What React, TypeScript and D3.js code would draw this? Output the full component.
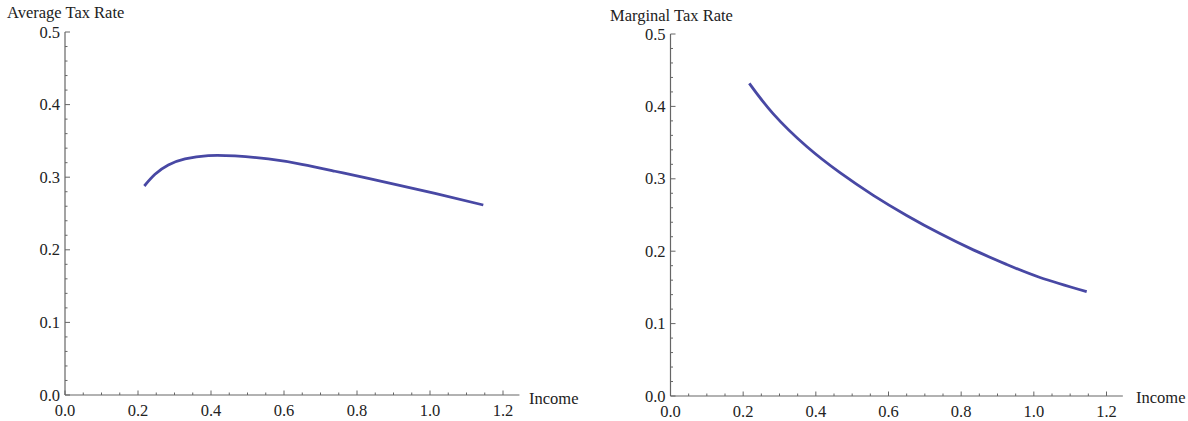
import { useEffect } from "react"
import * as d3 from "d3"

// values
const avgIncome = [0.2173, 0.2466, 0.283, 0.3288, 0.3926, 0.4658, 0.557, 0.6485, 0.7397, 0.831, 0.9225, 1.0137, 1.146]
const avgRate = [0.2879, 0.304, 0.3168, 0.3251, 0.3298, 0.3293, 0.3251, 0.3178, 0.3082, 0.2983, 0.2882, 0.2776, 0.2617]

const margIncome = [0.2169, 0.2829, 0.3749, 0.4665, 0.5582, 0.6501, 0.7417, 0.8334, 0.9253, 1.017, 1.1455]
const margRate = [0.4319, 0.3897, 0.3446, 0.3085, 0.2772, 0.2494, 0.2243, 0.2018, 0.1817, 0.1637, 0.1441]

const xTicks = [0, 0.2, 0.4, 0.6, 0.8, 1.0, 1.2]
const yTicks = [0, 0.1, 0.2, 0.3, 0.4, 0.5]

const FONT = "'Liberation Serif', 'Times New Roman', serif"
const AXIS = "#666"
const LINE = "#4848a4"

interface PanelProps {
    xs: number[]
    ys: number[]
    title: string
    xRange: [number, number]
    yRange: [number, number]
    titlePos: [number, number]
    labelPos: [number, number]
}

const Panel: React.FC<PanelProps> = ({ xs, ys, title, xRange, yRange, titlePos, labelPos }) => {
    const x = d3.scaleLinear().domain([0, 1.2]).range(xRange)
    const y = d3.scaleLinear().domain([0, 0.5]).range(yRange)

    const x0 = x(0), y0 = y(0)
    const xEnd = x(1.245)

    const xMinor = d3.range(0, 1.2001, 0.05).filter(v => Math.abs(v / 0.2 - Math.round(v / 0.2)) > 0.01)
    const yMinor = d3.range(0, 0.5001, 0.02).filter(v => Math.abs(v / 0.1 - Math.round(v / 0.1)) > 0.01)

    const line = d3.line<number>()
        .x((_, i) => x(xs[i]))
        .y(d => y(d))
        .curve(d3.curveNatural)

    return (
        <g fontFamily={FONT} fontSize={16.5} fill="#222">
            <text x={titlePos[0]} y={titlePos[1]} fontSize={16.5}>{title}</text>
            <text x={labelPos[0]} y={labelPos[1]} fontSize={16.5}>Income</text>

            {/* axes */}
            <line x1={x0} x2={xEnd} y1={y0} y2={y0} stroke={AXIS} strokeWidth={1.2} />
            <line x1={x0} x2={x0} y1={y0} y2={y(0.5)} stroke={AXIS} strokeWidth={1.2} />

            {xTicks.map(t => (
                <g key={"xt" + t}>
                    <line x1={x(t)} x2={x(t)} y1={y0} y2={y0 - 4.5} stroke={AXIS} />
                    <text x={x(t)} y={y0 + 21} textAnchor="middle">{t.toFixed(1)}</text>
                </g>
            ))}
            {xMinor.map(t => (
                <line key={"xm" + t} x1={x(t)} x2={x(t)} y1={y0} y2={y0 - 2.5} stroke={AXIS} />
            ))}

            {yTicks.map(t => (
                <g key={"yt" + t}>
                    <line x1={x0} x2={x0 + 5} y1={y(t)} y2={y(t)} stroke={AXIS} />
                    <text x={x0 - 5} y={y(t) + 5.5} textAnchor="end">{t.toFixed(1)}</text>
                </g>
            ))}
            {yMinor.map(t => (
                <line key={"ym" + t} x1={x0} x2={x0 + 2.5} y1={y(t)} y2={y(t)} stroke={AXIS} />
            ))}

            <path d={line(ys) ?? ""} fill="none" stroke={LINE} strokeWidth={2.8} strokeLinecap="butt" />
        </g>
    )
}

export default function App() {
    useEffect(() => {
        document.body.style.margin = "0"
    }, [])

    return (
        <svg width={1188} height={421} viewBox="0 0 1188 421" style={{ display: "block", background: "#fff" }}>
            <Panel
                xs={avgIncome}
                ys={avgRate}
                title="Average Tax Rate"
                xRange={[65, 503]}
                yRange={[395, 32]}
                titlePos={[7, 18]}
                labelPos={[529, 404]}
            />
            <Panel
                xs={margIncome}
                ys={margRate}
                title="Marginal Tax Rate"
                xRange={[670.5, 1106.5]}
                yRange={[396, 34]}
                titlePos={[610, 21]}
                labelPos={[1136, 403]}
            />
        </svg>
    )
}
